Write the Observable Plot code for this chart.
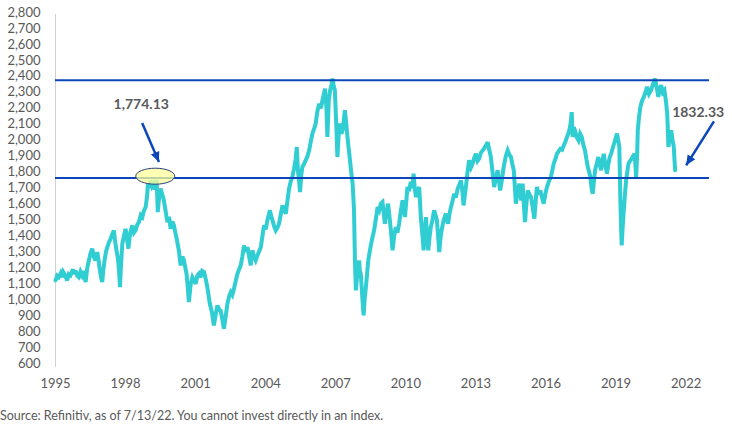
<!DOCTYPE html>
<html><head><meta charset="utf-8">
<script src="https://cdn.jsdelivr.net/npm/d3@7"></script>
<script src="https://cdn.jsdelivr.net/npm/@observablehq/plot@0.6"></script>
<style>
body{margin:0;background:#fff;font-family:Lato,sans-serif;}
#caption{font-size:12.5px;color:#595959;margin-top:8px;line-height:16px;white-space:nowrap;}
</style></head><body><div id="chart"></div><div id="caption">Source: Refinitiv, as of 7/13/22. You cannot invest directly in an index.</div>
<script>
// Series: [fractional year on the chart's axis, index level]
const series = [
[1995.00,1121],[1995.07,1150],[1995.14,1141],[1995.22,1165],[1995.27,1140],[1995.33,1173],[1995.42,1150],[1995.50,1121],[1995.57,1160],[1995.64,1152],[1995.75,1190],[1995.80,1160],[1995.86,1183],[1995.93,1150],
[1996.00,1141],[1996.07,1175],[1996.14,1152],[1996.21,1180],[1996.29,1110],[1996.36,1200],[1996.43,1246],[1996.50,1290],[1996.57,1320],[1996.64,1270],[1996.71,1246],[1996.79,1298],[1996.85,1240],[1996.90,1183],[1996.95,1140],
[1997.00,1110],[1997.05,1190],[1997.10,1246],[1997.16,1300],[1997.22,1329],[1997.29,1360],[1997.36,1382],[1997.43,1410],[1997.50,1434],[1997.55,1370],[1997.61,1309],[1997.68,1250],[1997.72,1180],[1997.76,1079],[1997.81,1230],[1997.86,1350],[1997.93,1400],
[1998.00,1444],[1998.06,1380],[1998.12,1320],[1998.20,1420],[1998.29,1466],[1998.36,1420],[1998.43,1434],[1998.50,1470],[1998.57,1486],[1998.65,1530],[1998.72,1518],[1998.79,1560],[1998.86,1580],[1998.92,1650],[1998.96,1727],
[1999.02,1700],[1999.07,1748],[1999.14,1710],[1999.21,1727],[1999.27,1690],[1999.33,1752],[1999.38,1549],[1999.44,1650],[1999.50,1696],[1999.57,1660],[1999.64,1622],[1999.71,1560],[1999.79,1486],[1999.86,1520],[1999.93,1444],
[2000.00,1490],[2000.07,1466],[2000.13,1420],[2000.19,1382],[2000.24,1340],[2000.28,1309],[2000.32,1260],[2000.36,1215],[2000.43,1270],[2000.50,1246],[2000.56,1200],[2000.61,1163],[2000.66,1080],[2000.71,985],[2000.79,1100],[2000.86,1141],[2000.93,1120],
[2001.00,1100],[2001.07,1150],[2001.14,1163],[2001.21,1140],[2001.28,1180],[2001.36,1173],[2001.43,1130],[2001.50,1079],[2001.56,1020],[2001.61,974],[2001.70,920],[2001.78,838],[2001.85,900],[2001.93,964],
[2002.00,940],[2002.07,932],[2002.14,880],[2002.21,818],[2002.29,900],[2002.36,974],[2002.43,1020],[2002.50,1047],[2002.57,1030],[2002.64,1068],[2002.72,1120],[2002.79,1163],[2002.86,1190],[2002.93,1215],
[2003.00,1270],[2003.07,1340],[2003.14,1300],[2003.22,1329],[2003.29,1270],[2003.36,1215],[2003.43,1309],[2003.50,1270],[2003.57,1246],[2003.68,1290],[2003.79,1329],[2003.86,1400],[2003.93,1466],
[2004.00,1440],[2004.07,1497],[2004.13,1530],[2004.18,1560],[2004.24,1520],[2004.29,1497],[2004.36,1460],[2004.43,1434],[2004.50,1450],[2004.57,1476],[2004.65,1540],[2004.72,1591],[2004.79,1560],[2004.86,1539],[2004.93,1620],
[2005.00,1696],[2005.07,1740],[2005.14,1769],[2005.21,1820],[2005.28,1880],[2005.33,1957],[2005.38,1811],[2005.43,1740],[2005.47,1675],[2005.52,1780],[2005.57,1832],[2005.64,1850],[2005.71,1873],[2005.79,1900],[2005.86,1936],[2005.93,1990],
[2006.00,2041],[2006.07,2070],[2006.14,2104],[2006.21,2180],[2006.29,2229],[2006.36,2200],[2006.43,2250],[2006.49,2290],[2006.54,2323],[2006.60,2200],[2006.64,2020],[2006.70,2250],[2006.76,2313],[2006.81,2340],[2006.86,2386],[2006.91,2340],[2006.96,2313],
[2007.02,2100],[2007.07,1894],[2007.13,2050],[2007.19,2104],[2007.24,2040],[2007.29,2062],[2007.34,2120],[2007.39,2187],[2007.45,2100],[2007.50,2020],[2007.55,1950],[2007.61,1873],[2007.66,1800],[2007.72,1727],[2007.76,1620],[2007.78,1560],[2007.82,1246],[2007.86,1058],[2007.93,1180],
[2008.00,1246],[2008.03,1180],[2008.07,1163],[2008.12,1050],[2008.19,901],[2008.24,1010],[2008.29,1079],[2008.34,1160],[2008.39,1246],[2008.44,1290],[2008.50,1340],[2008.57,1390],[2008.64,1434],[2008.71,1500],[2008.79,1580],[2008.86,1560],[2008.93,1602],
[2009.00,1612],[2009.07,1518],[2009.10,1476],[2009.17,1550],[2009.24,1602],[2009.30,1520],[2009.36,1434],[2009.43,1309],[2009.50,1400],[2009.57,1455],[2009.64,1420],[2009.71,1476],[2009.79,1560],[2009.86,1622],[2009.91,1580],[2009.96,1518],
[2010.02,1620],[2010.07,1706],[2010.14,1680],[2010.21,1738],[2010.27,1700],[2010.33,1790],[2010.38,1700],[2010.43,1643],[2010.50,1680],[2010.57,1706],[2010.61,1600],[2010.64,1518],[2010.70,1420],[2010.76,1309],[2010.81,1420],[2010.86,1518],[2010.91,1400],[2010.96,1309],
[2011.02,1400],[2011.07,1455],[2011.14,1500],[2011.21,1560],[2011.27,1530],[2011.33,1497],[2011.38,1400],[2011.43,1298],[2011.48,1380],[2011.53,1434],[2011.62,1500],[2011.71,1539],[2011.76,1500],[2011.81,1476],[2011.87,1540],[2011.93,1580],
[2012.00,1620],[2012.07,1664],[2012.14,1640],[2012.22,1696],[2012.29,1720],[2012.36,1748],[2012.42,1680],[2012.47,1591],[2012.52,1650],[2012.57,1706],[2012.64,1800],[2012.71,1873],[2012.79,1830],[2012.86,1853],[2012.93,1890],
[2013.00,1915],[2013.07,1870],[2013.14,1884],[2013.21,1920],[2013.29,1936],[2013.36,1950],[2013.43,1967],[2013.50,1988],[2013.57,1940],[2013.64,1894],[2013.71,1800],[2013.78,1706],[2013.85,1760],[2013.93,1811],[2013.98,1750],
[2014.04,1685],[2014.12,1760],[2014.19,1832],[2014.28,1900],[2014.36,1936],[2014.43,1910],[2014.50,1894],[2014.56,1850],[2014.62,1811],[2014.67,1700],[2014.71,1602],[2014.79,1680],[2014.86,1727],[2014.94,1622],
[2015.00,1727],[2015.05,1600],[2015.10,1486],[2015.16,1600],[2015.22,1685],[2015.29,1660],[2015.36,1643],[2015.43,1580],[2015.50,1508],[2015.56,1620],[2015.61,1706],[2015.69,1660],[2015.76,1685],[2015.83,1640],[2015.90,1602],[2015.97,1660],
[2016.04,1706],[2016.12,1740],[2016.21,1769],[2016.27,1810],[2016.33,1853],[2016.40,1880],[2016.47,1915],[2016.54,1930],[2016.61,1946],[2016.69,1940],[2016.76,1967],[2016.83,1990],[2016.90,2020],[2016.95,2040],
[2017.00,2062],[2017.06,2110],[2017.10,2176],[2017.14,2020],[2017.19,2080],[2017.24,2062],[2017.31,2020],[2017.39,1999],[2017.46,2040],[2017.53,2020],[2017.60,1970],[2017.67,1936],[2017.73,1880],[2017.79,1832],[2017.85,1800],[2017.90,1769],[2017.95,1700],
[2018.00,1664],[2018.05,1740],[2018.10,1811],[2018.17,1850],[2018.24,1894],[2018.30,1850],[2018.36,1811],[2018.42,1870],[2018.47,1915],[2018.54,1850],[2018.61,1790],[2018.67,1850],[2018.73,1894],[2018.80,1920],[2018.87,1957],[2018.96,2000],
[2019.04,2041],[2019.09,2000],[2019.14,1957],[2019.16,1800],[2019.18,1643],[2019.21,1480],[2019.24,1340],[2019.28,1450],[2019.33,1560],[2019.38,1660],[2019.43,1748],[2019.48,1800],[2019.53,1853],[2019.60,1870],[2019.67,1884],[2019.73,1900],[2019.79,1915],[2019.83,1840],[2019.86,1769],[2019.90,1900],[2019.93,2062],[2019.98,2140],
[2020.04,2208],[2020.12,2250],[2020.19,2271],[2020.26,2300],[2020.33,2334],[2020.41,2290],[2020.50,2313],[2020.58,2350],[2020.67,2386],[2020.74,2330],[2020.81,2271],[2020.87,2320],[2020.93,2344],
[2021.00,2300],[2021.07,2313],[2021.13,2250],[2021.19,2166],[2021.22,2050],[2021.24,1957],[2021.30,2020],[2021.36,2062],[2021.42,2000],[2021.47,1957],[2021.50,1880],[2021.53,1811]
];
// Axis ticks
const xTicks = [1995,1998,2001,2004,2007,2010,2013,2016,2019,2022];
const yTicks = d3.range(600, 2801, 100);
// Reference levels
const levels = [2375, 1762];
// Annotations
const callouts = [
  {label: "1,774.13", tx: 1998.67, ty: 2225, anchor: "middle", x1: 1998.71, y1: 2107, x2: 1999.43, y2: 1863, angle: 157},
  {label: "1832.33", tx: 2021.40, ty: 2176, anchor: "start", x1: 2023.19, y1: 2118, x2: 2022.0, y2: 1842, angle: 212}
];
const highlight = [{x: 1999.27, y: 1774}];

const data = series.map(([x, y]) => ({x, y}));

const ellipseSymbol = {draw(ctx) {
  const rx = 19.5, ry = 8, k = 0.5523;
  ctx.moveTo(rx, 0);
  ctx.bezierCurveTo(rx, ry*k, rx*k, ry, 0, ry);
  ctx.bezierCurveTo(-rx*k, ry, -rx, ry*k, -rx, 0);
  ctx.bezierCurveTo(-rx, -ry*k, -rx*k, -ry, 0, -ry);
  ctx.bezierCurveTo(rx*k, -ry, rx, -ry*k, rx, 0);
  ctx.closePath();
}};
const headSymbol = {draw(ctx) {
  ctx.moveTo(0, 0); ctx.lineTo(4.5, 10); ctx.lineTo(-4.5, 10); ctx.closePath();
}};

const blue = "#0b47b8";
const chart = Plot.plot({
  width: 732, height: 400,
  marginLeft: 55, marginRight: 23, marginTop: 12, marginBottom: 37,
  style: {fontFamily: "Lato, sans-serif", fontSize: "13px", color: "#595959", background: "white", overflow: "visible"},
  x: {type: "linear", domain: [1995, 2023]},
  y: {domain: [600, 2800]},
  marks: [
    Plot.axisX(xTicks, {tickSize: 0, tickPadding: 15, tickFormat: d => String(d), label: null}),
    Plot.axisY(yTicks, {tickSize: 0, tickPadding: 15, tickFormat: d3.format(","), label: null}),
    Plot.ruleX([1995], {y1: 2788, y2: 575, stroke: "#d0d0d0", strokeWidth: 1}),
    Plot.line(data, {x: "x", y: "y", stroke: "#30cdd3", strokeWidth: 4, strokeLinejoin: "miter", strokeMiterlimit: 3}),
    Plot.ruleY(levels, {x1: 1995, x2: 2023, stroke: blue, strokeWidth: 2}),
    Plot.dot(highlight, {x: "x", y: "y", symbol: ellipseSymbol, fill: "#ffff99", fillOpacity: 0.75, stroke: "#2a3f80", strokeWidth: 1}),
    Plot.link(callouts, {x1: "x1", y1: "y1", x2: "x2", y2: "y2", stroke: blue, strokeWidth: 2.5}),
    Plot.dot(callouts, {x: "x2", y: "y2", symbol: headSymbol, rotate: "angle", fill: blue, stroke: "none"}),
    Plot.text(callouts.filter(d => d.anchor === "middle"), {x: "tx", y: "ty", text: "label", fontWeight: "bold", fontSize: 14, fill: "#595959", textAnchor: "middle"}),
    Plot.text(callouts.filter(d => d.anchor === "start"), {x: "tx", y: "ty", text: "label", fontWeight: "bold", fontSize: 14, fill: "#595959", textAnchor: "start"})
  ]
});
document.getElementById("chart").appendChild(chart);
</script></body></html>
